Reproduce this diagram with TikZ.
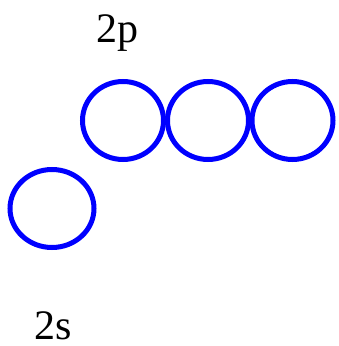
\documentclass[tikz,border=0pt]{standalone}
\usepackage{fontspec}
\setmainfont{Liberation Serif}
\usetikzlibrary{shapes.geometric}
\begin{document}
\begin{tikzpicture}[x=1pt,y=1pt,
  orb/.style={draw=blue,line width=5pt,ellipse,minimum width=81pt,minimum height=78pt,inner sep=0pt,outer sep=0pt},
  lbl/.style={font=\fontsize{42}{46}\selectfont,inner sep=0pt,anchor=base}]
\useasboundingbox (0,0) rectangle (338,346);
\node[orb] (p1) at (123,225.5) {};
\node[orb] (p2) at (208,225.5) {};
\node[orb] (p3) at (292.5,225.5) {};
\node[orb,minimum width=84pt] (s1) at (52,137.5) {};
\node[lbl] (p) at (117,303) {2p};
\node[lbl] (s) at (53.5,6.5) {2s};
\end{tikzpicture}
\end{document}
